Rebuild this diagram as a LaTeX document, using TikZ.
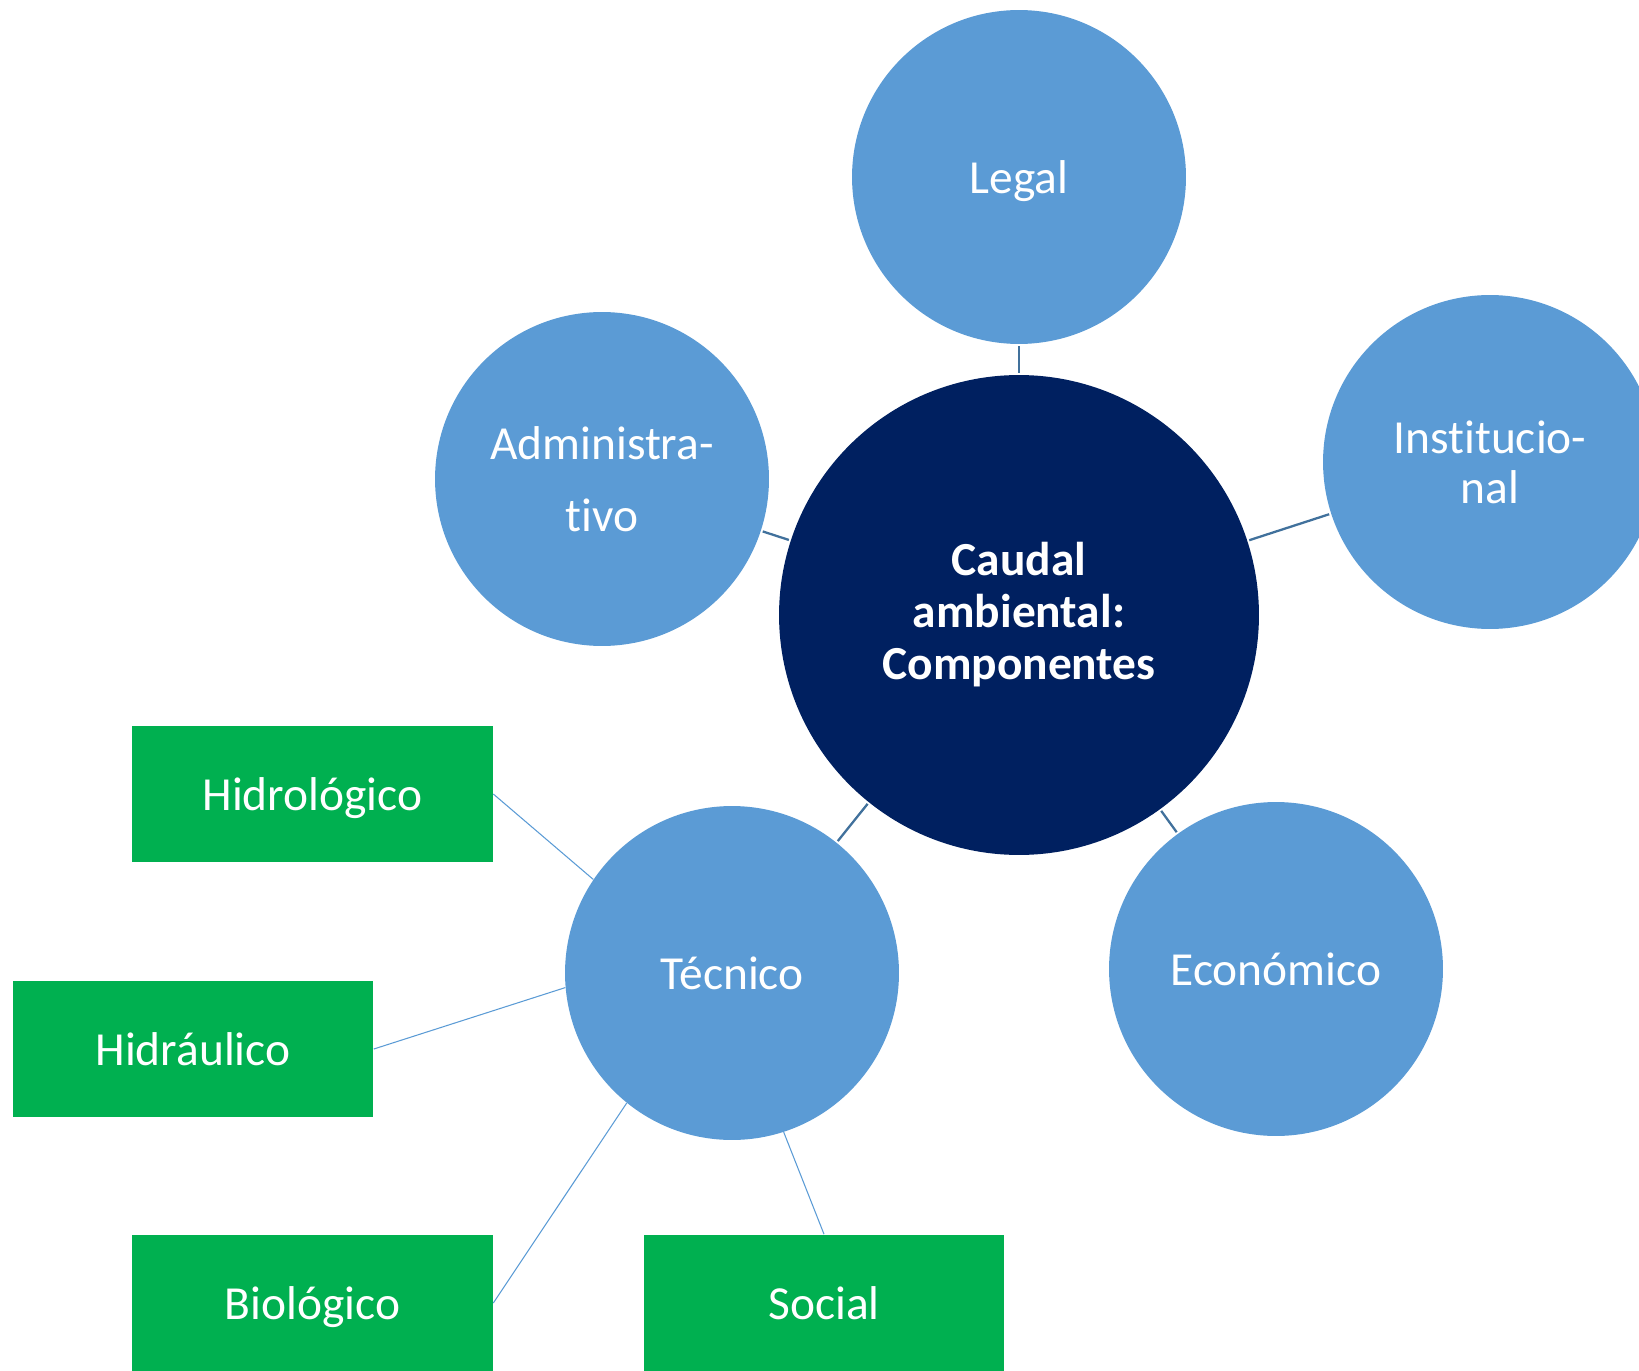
\documentclass[tikz,border=0pt]{standalone}
\usepackage{fontspec}
\setmainfont{Carlito}[Ligatures=NoCommon]
\definecolor{navy}{HTML}{002060}
\definecolor{skyblue}{HTML}{5B9BD5}
\definecolor{linkblue}{HTML}{41719C}
\definecolor{leafgreen}{HTML}{00B050}

\begin{document}
\begin{tikzpicture}[x=.02cm,y=-.02cm,
 comp/.style={circle,fill=skyblue,inner sep=0pt,minimum size=6.68cm,text=white,align=center,font=\fontsize{27}{28.5}\selectfont},
 hub/.style={circle,fill=navy,inner sep=0pt,minimum size=9.6cm,text=white,align=center,font=\bfseries\fontsize{27}{29.6}\selectfont},
 aspect/.style={fill=leafgreen,inner sep=0pt,minimum width=7.22cm,minimum height=2.74cm,text depth=0pt,text=white,font=\fontsize{27}{28.5}\selectfont},
 link/.style={draw=linkblue,line width=1.3pt,shorten <=1pt,shorten >=1pt},
 twig/.style={draw=skyblue,line width=.6pt}]
 \clip (0,0) rectangle (1639,1371);
 \node[hub] (c) at (1019,615) {Caudal\\ambiental:\\Componentes};
 \node[comp,text depth=0pt] (leg) at (1019,177) {Legal};
 \node[comp,font=\fontsize{27}{41}\selectfont] (adm) at (602,479) {Administra-\\tivo};
 \node[comp] (ins) at (1490,462) {Institucio-\\nal};
 \node[comp] (eco) at (1276,969) {Económico};
 \node[comp] (tec) at (732,973) {Técnico};
 \draw[link] (leg)--(c);\draw[link] (adm)--(c);\draw[link] (ins)--(c);
 \draw[link] (tec)--(c);\draw[link] (eco)--(c);
 \node[aspect] (hdl) at (312.5,794) {Hidrológico};
 \node[aspect] (hdr) at (193,1049) {Hidráulico};
 \node[aspect] (bio) at (312.5,1303) {Biológico};
 \node[aspect] (soc) at (824,1303) {Social};
 \draw[twig] (hdl.east)--(tec.146);\draw[twig] (hdr.east)--(tec.185);
 \draw[twig] (bio.east)--(tec.231);\draw[twig] (soc.north)--(tec.288);
\end{tikzpicture}
\end{document}
